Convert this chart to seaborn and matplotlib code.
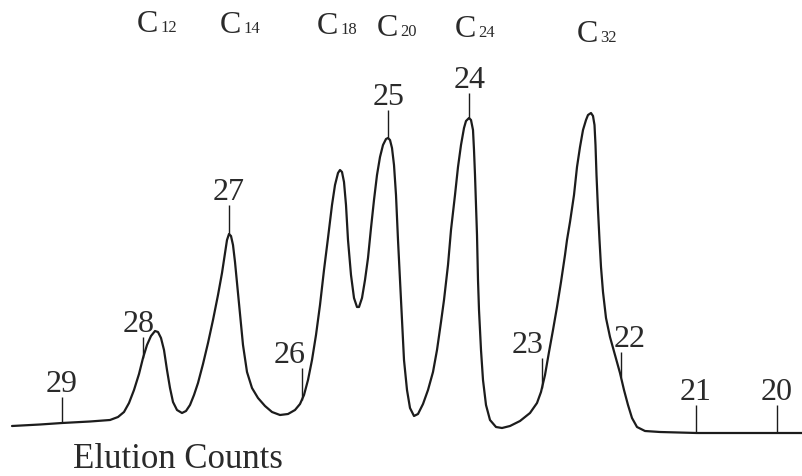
import numpy as np
import pandas as pd
import matplotlib
matplotlib.use("Agg")
import matplotlib.pyplot as plt
import seaborn as sns

# Detector trace: position along the chart (elution counts) and response
elution = [12, 40, 62, 90, 110, 118, 124, 129, 134, 139, 143, 147, 151, 155, 158,
           161, 164, 167, 170, 173, 177, 182, 186, 190, 194, 198, 203, 208, 213,
           218, 222, 225, 227, 229, 231, 233, 235, 237, 240, 243, 247, 252, 258,
           265, 272, 280, 288, 295, 300, 304, 308, 312, 316, 320, 324, 328, 332,
           335, 338, 340, 342, 344, 346, 348, 351, 354, 357, 359, 362, 365, 368,
           371, 374, 377, 380, 383, 386, 388, 390, 392, 394, 396, 398, 400, 402,
           404, 407, 410, 414, 418, 423, 428, 433, 437, 441, 444, 448, 451, 455,
           458, 461, 464, 466, 469, 471, 473, 474, 475, 476, 477, 478, 479, 481,
           483, 486, 490, 496, 502, 510, 520, 530, 537, 541, 545, 549, 553, 557,
           561, 565, 567, 570, 574, 577, 580, 583, 586, 588, 591, 593, 594.5,
           595.5, 596.5, 598, 599.5, 601, 603, 606, 610, 615, 620, 624, 628, 632,
           637, 645, 660, 697, 740, 803]
response = [50, 51.5, 53, 54.5, 56, 59, 64, 73, 86, 102, 118, 131, 140, 145, 144,
            138, 126, 106, 88, 74, 66, 63, 65, 71, 81, 93, 112, 133, 156,
            181, 203, 223, 236, 242, 240, 231, 214, 193, 161, 131, 104, 88, 78,
            70, 64, 61, 62, 66, 72, 81, 96, 116, 141, 171, 206, 238, 271,
            291, 303, 306, 304, 294, 271, 236, 201, 178, 169, 169, 178, 196, 218,
            248, 276, 301, 319, 331, 337, 338, 336, 328, 311, 281, 236, 196, 156,
            116, 86, 68, 60, 62, 72, 86, 104, 126, 154, 176, 211, 246, 281,
            309, 331, 348, 355, 358, 356, 346, 326, 301, 271, 241, 196, 166, 126,
            96, 71, 56, 49, 48, 50, 55, 63, 73, 84, 101, 124, 146, 169,
            194, 221, 236, 254, 281, 309, 329, 346, 356, 361, 363, 360, 351,
            331, 301, 266, 236, 209, 184, 158, 139, 121, 103, 86, 71, 58,
            49, 45, 44, 43, 43, 43]

# Fraction numbers and where each fraction was cut
fractions = ["29", "28", "27", "26", "25", "24", "23", "22", "21", "20"]
fraction_at = [62, 143, 229, 302, 388, 469, 542, 621, 696, 777]

# Identified n-alkane peaks
carbons = ["12", "14", "18", "20", "24", "32"]

# ---- layout -------------------------------------------------------------
fraction_tick_top = [79, 139, 271, 108, 366, 383, 118, 124, 71, 71]
fraction_label_dx = [0, -4, 0, -12, 1, 1, -14, 9, 0, 0]
carbon_x = [158, 241, 338, 398, 476, 598]
carbon_y = [444, 443, 442, 440, 439, 434]

sns.set_style("white")
plt.rcParams["font.family"] = ["Liberation Serif", "DejaVu Serif"]

ink = "#1c1c1c"
text_ink = "#2a2a2a"
fig = plt.figure(figsize=(8.03, 4.76), dpi=100)
ax = fig.add_axes([0, 0, 1, 1])

trace = pd.DataFrame({"elution": elution, "response": response})
sns.lineplot(data=trace, x="elution", y="response", sort=False,
             estimator=None, color=ink, linewidth=1.6, ax=ax)

# Fraction markers: a short stroke from the trace up to each number
curve_at = np.interp(fraction_at, elution, response)
ax.vlines(fraction_at, curve_at, fraction_tick_top, color=ink, linewidth=1.0)
for name, x, top, dx in zip(fractions, fraction_at, fraction_tick_top,
                            fraction_label_dx):
    ax.text(x + dx, top + 5, name, ha="center", va="baseline",
            fontsize=23, color=text_ink)

# Peak identities, C with the carbon number as subscript
for n, x, y in zip(carbons, carbon_x, carbon_y):
    ax.text(x, y, "C", ha="right", va="baseline", fontsize=23, color=text_ink)
    ax.text(x + 2, y, n, ha="left", va="baseline", fontsize=12, color=text_ink)

ax.text(73, 8, "Elution Counts", ha="left", va="baseline", fontsize=25,
        color=text_ink)

ax.set_xlim(0, 803)
ax.set_ylim(0, 476)
ax.axis("off")

fig.savefig("out.png", dpi=100, facecolor="white")
